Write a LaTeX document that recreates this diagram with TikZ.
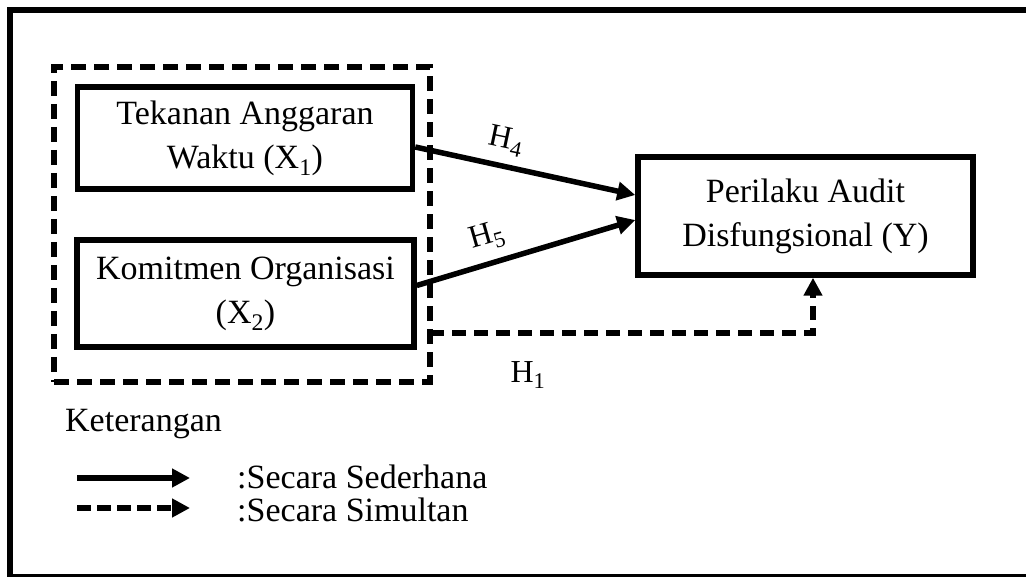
\documentclass[tikz,border=0pt]{standalone}
\usepackage{fontspec}
\setmainfont{Liberation Serif}
\usetikzlibrary{arrows.meta}
\begin{document}
\begin{tikzpicture}[x=1pt,y=-1pt,
  box/.style={draw=black,line width=5.5pt,align=center,inner sep=0pt,
    font=\fontsize{34}{44}\selectfont},
  lbl/.style={font=\fontsize{32}{40}\selectfont,inner sep=0pt},
  solidarrow/.style={line width=5.5pt,-{Triangle[length=18pt,width=18pt]}},
  dasharrow/.style={line width=5.5pt,dash pattern=on 14pt off 8pt,-{Triangle[length=18pt,width=18pt]}},
  grpstyle/.style={draw=black,line width=5.5pt,dash pattern=on 15pt off 8pt,inner sep=0pt}
]
\clip (0,0) rectangle (1026,577);
\fill[white] (0,0) rectangle (1026,577);
\draw[line width=5.5pt] (10,10) rectangle (1060,577);

\node[grpstyle,minimum width=376pt,minimum height=315pt] (grp) at (242,224.5) {};
\node[box,minimum width=335pt,minimum height=102pt] (x1) at (245,138) {Tekanan Anggaran\\Waktu (X\textsubscript{1})};
\node[box,minimum width=337pt,minimum height=107pt] (x2) at (245.5,293.5) {Komitmen Organisasi\\(X\textsubscript{2})};
\node[box,minimum width=335pt,minimum height=118pt] (y) at (805.5,216) {Perilaku Audit\\Disfungsional (Y)};

\draw[solidarrow] ([yshift=-9pt]x1.east) -- ([yshift=21pt]y.west);
\draw[solidarrow] ([yshift=8pt]x2.east) -- ([yshift=-4pt]y.west);
\coordinate (h1s) at (430,333);
\draw[dasharrow] (h1s) -| ([xshift=7.5pt]y.south);

\node[lbl,rotate=-12] (h4) at (506,141) {H\textsubscript{4}};
\node[lbl,rotate=16] (h5) at (487,237) {H\textsubscript{5}};
\node[lbl] (h1) at (528,375) {H\textsubscript{1}};

\node[lbl,anchor=west,font=\fontsize{34}{40}\selectfont] (ket) at (65,424) {Keterangan};
\coordinate (l1a) at (77,478);
\coordinate (l1b) at (190,478);
\coordinate (l2a) at (77,508);
\coordinate (l2b) at (190,508);
\draw[solidarrow] (l1a) -- (l1b);
\draw[dasharrow,dash pattern=on 14pt off 6pt] (l2a) -- (l2b);
\node[lbl,anchor=west,font=\fontsize{34}{40}\selectfont] (t1) at (237,477) {:Secara Sederhana};
\node[lbl,anchor=west,font=\fontsize{34}{40}\selectfont] (t2) at (237,510) {:Secara Simultan};
\end{tikzpicture}
\end{document}
